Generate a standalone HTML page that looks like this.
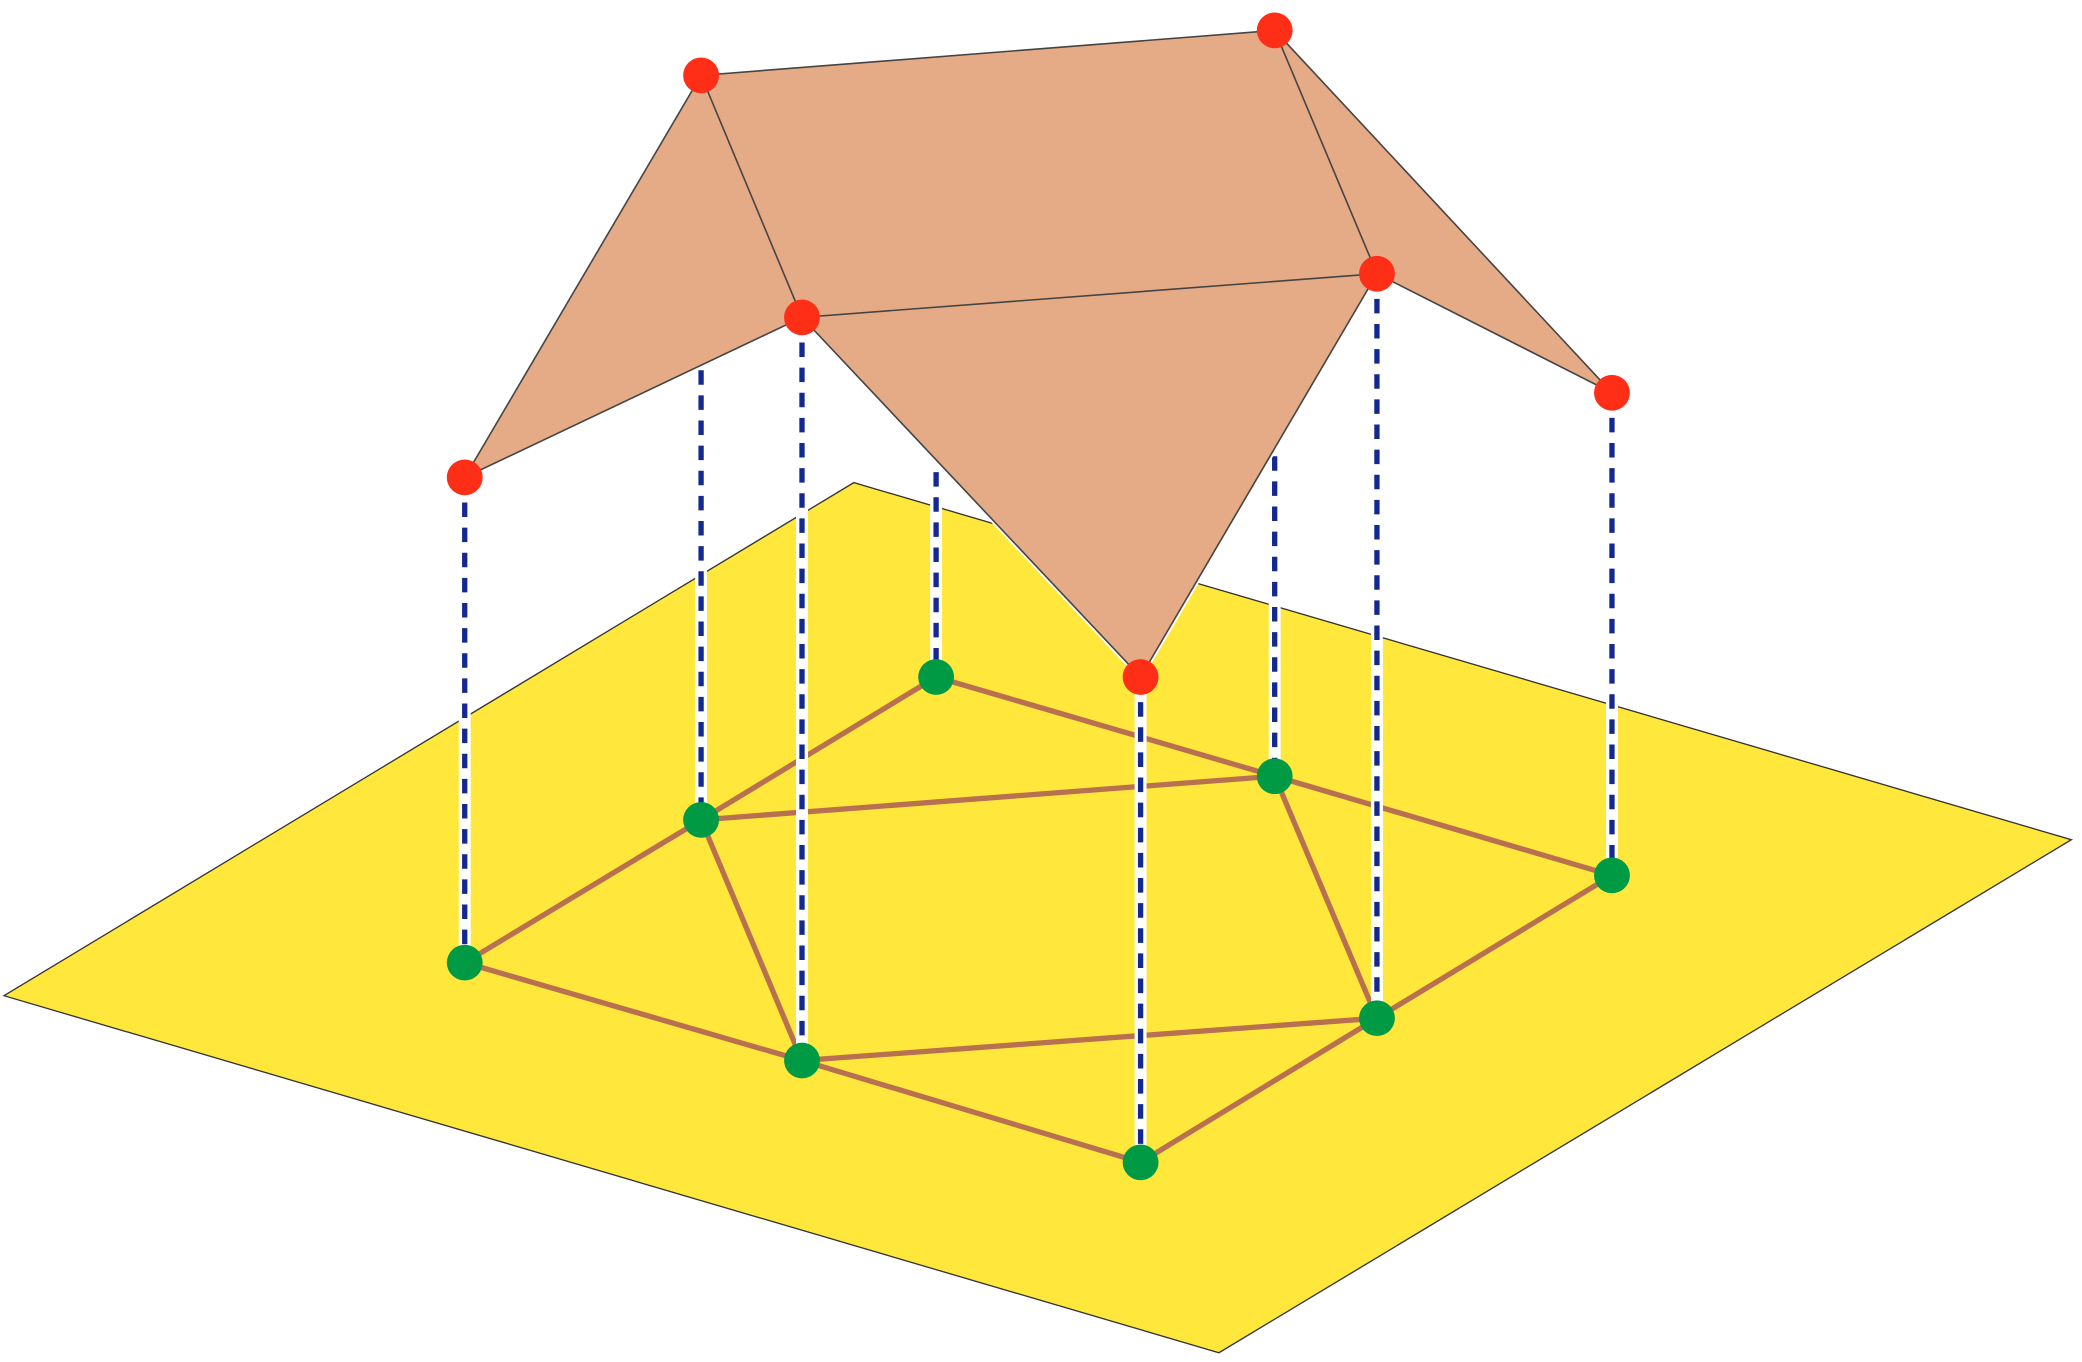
<!DOCTYPE html>
<html><head><meta charset="utf-8"><style>html,body{margin:0;padding:0;background:#fff}svg{display:block}</style></head>
<body>
<svg id="chart" width="2082" height="1362" viewBox="0 0 1568 1030" preserveAspectRatio="none" xmlns="http://www.w3.org/2000/svg">
<g id="plane-layer"></g><g id="ground-layer"></g><g id="drop-layer"></g><g id="roof-layer"></g><g id="point-layer"></g>
</svg>
<script>
const planeCorners = [[3,753],[643,365],[1560,635],[918,1023]];
const groundX = [350,528,705,604,960,859,1037,1214];
const groundY = [728,620,512,802,587,879,770,662];
const groundEdges = [[0,1],[1,2],[2,4],[1,4],[1,3],[0,3],[3,5],[3,6],[5,6],[4,6],[4,7],[6,7]];
const roofX = [350,528,604,960,1037,1214,859];
const roofY = [361,57,240,23,207,297,512];
const roofFaces = [[0,1,2],[1,3,4,2],[3,5,4],[2,4,6]];
const roofEdges = [[0,1],[1,2],[2,0],[1,3],[3,4],[4,2],[3,5],[5,4],[4,6],[6,2]];
// vertical drops: ground index -> top y (roof point or occluded top)
const dropGround = [0,1,2,3,4,5,6,7];
const dropTopY = [361,280,357,240,345,512,207,297];

const NS='http://www.w3.org/2000/svg';
function mk(tag, attrs, parent){const e=document.createElementNS(NS,tag);for(const k in attrs)e.setAttribute(k,attrs[k]);document.getElementById(parent).appendChild(e);return e;}

const plane = mk('polygon',{points:planeCorners.map(p=>p.join(',')).join(' '),fill:'#ffe83b',stroke:'#333','stroke-width':1},'plane-layer');



groundEdges.forEach(([a,b])=>{
  const l=mk('line',{x1:groundX[a],y1:groundY[a],x2:groundX[b],y2:groundY[b],stroke:'#b87050','stroke-width':4},'ground-layer');
  
  
});

dropGround.forEach((g,i)=>{
  const x=groundX[g];
  const w=mk('line',{x1:x,y1:dropTopY[i],x2:x,y2:groundY[g],stroke:'#fff','stroke-width':9},'drop-layer');
  
  
  const d=mk('line',{x1:x,y1:dropTopY[i],x2:x,y2:groundY[g],stroke:'#13298f','stroke-width':4,'stroke-dasharray':'11 8'},'drop-layer');
  
  
});

roofFaces.forEach(f=>{
  const p=mk('polygon',{points:f.map(i=>roofX[i]+','+roofY[i]).join(' '),fill:'#e5aa86',stroke:'#fff','stroke-width':4,'stroke-linejoin':'round'},'roof-layer');
  
  
});
roofFaces.forEach(f=>{
  const p=mk('polygon',{points:f.map(i=>roofX[i]+','+roofY[i]).join(' '),fill:'#e5aa86',stroke:'none'},'roof-layer');
  
  
});
roofEdges.forEach(([a,b])=>{
  const l=mk('line',{x1:roofX[a],y1:roofY[a],x2:roofX[b],y2:roofY[b],stroke:'#444','stroke-width':1.2},'roof-layer');
  
  
});

groundX.forEach((x,i)=>{
  const c=mk('ellipse',{cx:x,cy:groundY[i],rx:13.5,ry:13.5,fill:'#009a44'},'point-layer');
  
  
});
roofX.forEach((x,i)=>{
  const c=mk('ellipse',{cx:x,cy:roofY[i],rx:13.5,ry:13.5,fill:'#ff2e17'},'point-layer');
  
  
});
</script>
</body></html>
